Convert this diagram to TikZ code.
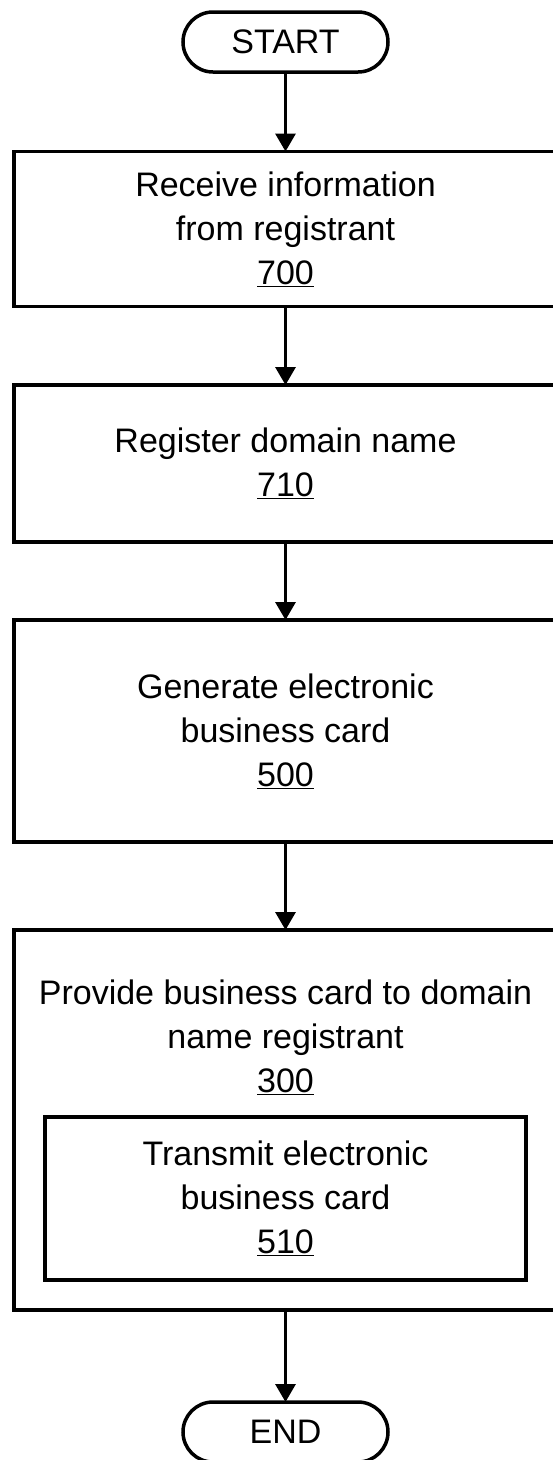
\documentclass[tikz,border=0pt]{standalone}
\usepackage{fontspec}
\setmainfont{Liberation Sans}
\usetikzlibrary{arrows.meta}
\begin{document}
\begin{tikzpicture}[x=1pt,y=-1pt,
  every node/.style={inner sep=0pt,outer sep=0pt},
  txt/.style={font=\fontsize{34}{44}\selectfont,align=center},
  box/.style={draw,line width=3.5pt,txt},
  pill/.style={draw,line width=3.5pt,rounded corners=30pt,minimum width=205pt,minimum height=60pt,font=\fontsize{34}{44}\selectfont},
  arr/.style={line width=3.2pt,-{Triangle[width=20pt,length=18pt]}}]
\useasboundingbox (0,0) rectangle (552,1460);
\node[pill] (start) at (285.5,42) {START};
\node[box,minimum width=543pt,minimum height=155pt] (b1) at (285.5,229) {Receive information\\from registrant\\\underline{700}};
\node[box,minimum width=543pt,minimum height=157pt] (b2) at (285.5,463.5) {Register domain name\\\underline{710}};
\node[box,minimum width=543pt,minimum height=222pt] (b3) at (285.5,731) {Generate electronic\\business card\\\underline{500}};
\node[box,minimum width=543pt,minimum height=380pt] (b4) at (285.5,1120) {};
\node[txt,anchor=north] (t4) at (285.5,980) {Provide business card to domain\\name registrant\\\underline{300}};
\node[box,minimum width=481pt,minimum height=163pt] (b5) at (285.5,1198.5) {Transmit electronic\\business card\\\underline{510}};
\node[pill] (end) at (285.5,1432) {END};
\draw[arr] (start) -- (b1);
\draw[arr] (b1) -- (b2);
\draw[arr] (b2) -- (b3);
\draw[arr] (b3) -- (b4);
\draw[arr] (b4) -- (end);
\end{tikzpicture}
\end{document}
